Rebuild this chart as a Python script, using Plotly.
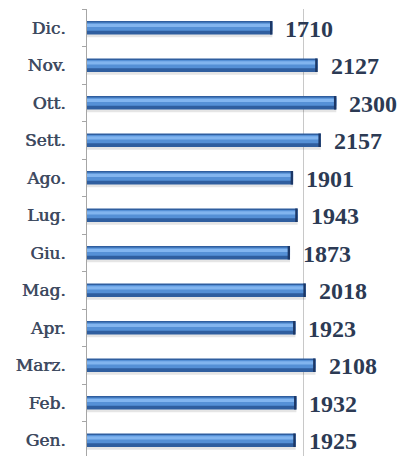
import plotly.graph_objects as go

months = ["Gen.", "Feb.", "Marz.", "Apr.", "Mag.", "Giu.", "Lug.", "Ago.", "Sett.", "Ott.", "Nov.", "Dic."]
values = [1925, 1932, 2108, 1923, 2018, 1873, 1943, 1901, 2157, 2300, 2127, 1710]

cap = 22
fig = go.Figure()

# soft shadow under the bars
fig.add_trace(go.Bar(y=months, x=values, orientation="h", offset=-0.25, width=0.36,
                     marker=dict(color="rgba(0,0,0,0.10)", line=dict(width=0)), hoverinfo="skip"))
# base cylinder colour
fig.add_trace(go.Bar(y=months, x=values, orientation="h", offset=-0.18, width=0.36,
                     marker=dict(color="#2F5E9F", line=dict(width=0))))
# lighter body
fig.add_trace(go.Bar(y=months, x=values, orientation="h", offset=-0.08, width=0.22,
                     marker=dict(color="#5590D6", line=dict(width=0)), hoverinfo="skip"))
# highlight
fig.add_trace(go.Bar(y=months, x=values, orientation="h", offset=0.02, width=0.09,
                     marker=dict(color="#82B5EF", line=dict(width=0)), hoverinfo="skip"))
# dark end cap
fig.add_trace(go.Bar(y=months, x=[cap] * len(values), base=[v - cap for v in values], orientation="h",
                     offset=-0.18, width=0.36,
                     marker=dict(color="#1C3766", line=dict(width=0)), hoverinfo="skip"))

for m, v in zip(months, values):
    fig.add_annotation(x=v, y=m, text=str(v), showarrow=False, xanchor="left", yanchor="middle",
                       xshift=11, yshift=-1,
                       font=dict(family="Liberation Serif", size=24, color="#2C3A54", weight="bold"))

fig.update_layout(
    width=399, height=448,
    margin=dict(l=79, r=49, t=1, b=0, autoexpand=False),
    paper_bgcolor="white", plot_bgcolor="white",
    barmode="overlay", showlegend=False,
    xaxis=dict(range=[0, 2500], tick0=0, dtick=2000, showgrid=True, gridcolor="#C8C8C8", gridwidth=1,
               zeroline=False, showticklabels=False, ticks="", showline=False, automargin=False),
    yaxis=dict(type="category", categoryorder="array", categoryarray=months,
               range=[-0.42, 11.5], showline=True, linecolor="#A6A6A6", linewidth=1,
               ticks="outside", tickson="boundaries", ticklen=4, tickcolor="#A6A6A6",
               ticklabelstandoff=17, showgrid=False, automargin=False,
               tickfont=dict(family="DejaVu Serif", size=17, color="#3E4A60",
                             shadow="0.6px 0px 0px #3E4A60")),
)

fig.write_html("out.html")
